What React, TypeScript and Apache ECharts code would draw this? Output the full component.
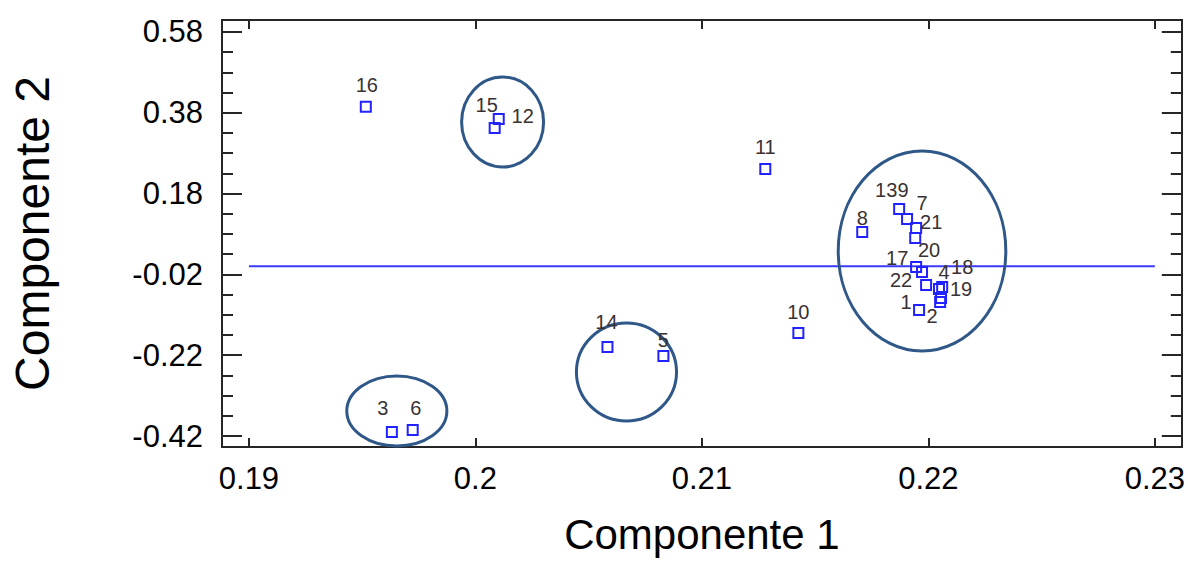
import React, { useEffect, useRef } from "react";
import * as echarts from "echarts";

// ---- data ----
const pointNames = ["1","2","3","4","5","6","7","8","9","10","11","12","13","14","15","16","17","18","19","20","21","22"];
const comp1 = [0.21959,0.22052,0.19631,0.22047,0.2083,0.19723,0.21946,0.21708,0.21906,0.21426,0.2128,0.20103,0.21871,0.20583,0.20085,0.19516,0.21946,0.22061,0.22056,0.21972,0.21942,0.2199];
const comp2 = [-0.1081,-0.0883,-0.4101,-0.0561,-0.222,-0.4051,0.0949,0.085,0.1171,-0.165,0.2409,0.3647,0.1419,-0.1997,0.3424,0.3951,-0.0017,-0.0512,-0.0784,-0.0141,0.0701,-0.0462];
// label offsets (px) relative to each marker, in the same order
const labelDx = [-13,-8,-9,5,0,3,6,0,-4,0,0,24,-13,-1,-8,1,-19,20,20,7,16,-25];
const labelDy = [-8,14,-24,-17,-16,-22,-25,-14,-29,-21,-22,-3,-19,-25,-23,-22,-9,-20,-9,-22,-16,-5];

const xTickLabels = [0.19, 0.2, 0.21, 0.22, 0.23];
const yTickLabels = [-0.42, -0.22, -0.02, 0.18, 0.38, 0.58];

// cluster ellipses: centre x, centre y, radius x, radius y (data units)
const ellipseCx = [0.2012, 0.20667, 0.19653, 0.21972];
const ellipseCy = [0.3572, -0.2616, -0.3581, 0.0379];
const ellipseRx = [0.00181, 0.00221, 0.00221, 0.0037];
const ellipseRy = [0.1114, 0.1213, 0.0866, 0.2475];

// reference line
const refLineX = [0.19, 0.23];
const refLineY = [0, 0];

const X_MIN = 0.18881;
const X_MAX = 0.23119;
const Y_MIN = -0.4472;
const Y_MAX = 0.6097;

const yMinorTicks: number[] = [];
for (let k = 0; k <= 20; k++) yMinorTicks.push(Math.round((0.58 - 0.05 * k) * 100) / 100);

const FONT = "'Liberation Sans', Arial, Helvetica, sans-serif";
const AXIS_COLOR = "#262626";

export default function App() {
  const ref = useRef<HTMLDivElement>(null);
  useEffect(() => {
    document.body.style.margin = "0";
    if (!ref.current) return;
    const chart = echarts.init(ref.current, undefined, { renderer: "svg" });

    const baseY = (position: "left" | "right", ticks: number[], len: number, showLabel: boolean, name?: string) => ({
      type: "value",
      position,
      min: Y_MIN,
      max: Y_MAX,
      name,
      nameLocation: "middle",
      nameGap: 166,
      nameTextStyle: { fontSize: 48, fontFamily: FONT, color: "#000" },
      axisLine: { show: true, onZero: false, lineStyle: { color: AXIS_COLOR, width: 2 } },
      axisTick: { show: true, inside: true, length: len, customValues: ticks, lineStyle: { color: AXIS_COLOR, width: 2 } },
      axisLabel: showLabel
        ? { show: true, customValues: yTickLabels, margin: 19, fontSize: 31, fontFamily: FONT, color: "#000", formatter: (v: number) => v.toFixed(2) }
        : { show: false },
      splitLine: { show: false },
    });

    const baseX = (position: "top" | "bottom", showLabel: boolean, name?: string) => ({
      type: "value",
      position,
      min: X_MIN,
      max: X_MAX,
      name,
      nameLocation: "middle",
      nameGap: 66,
      nameTextStyle: { fontSize: 42, fontFamily: FONT, color: "#000" },
      axisLine: { show: true, onZero: false, lineStyle: { color: AXIS_COLOR, width: 2 } },
      axisTick: { show: true, inside: true, length: 9, customValues: xTickLabels, lineStyle: { color: AXIS_COLOR, width: 2 } },
      axisLabel: showLabel
        ? { show: true, customValues: xTickLabels, margin: 16, fontSize: 31, fontFamily: FONT, color: "#000", formatter: (v: number) => String(v) }
        : { show: false },
      splitLine: { show: false },
    });

    const scatterData = pointNames.map((n, i) => ({
      name: n,
      value: [comp1[i], comp2[i]],
      label: { offset: [labelDx[i], labelDy[i]] },
    }));

    const ellipseData = ellipseCx.map((cx, i) => [cx, ellipseCy[i], ellipseRx[i], ellipseRy[i]]);

    chart.setOption({
      animation: false,
      backgroundColor: "#fff",
      grid: { left: 222, top: 20, right: 5, bottom: 114, containLabel: false },
      xAxis: [baseX("bottom", true, "Componente 1"), baseX("top", false)],
      yAxis: [
        baseY("left", yTickLabels, 20, true, "Componente 2"),
        baseY("left", yMinorTicks, 11, false),
        baseY("right", yTickLabels, 20, false),
        baseY("right", yMinorTicks, 11, false),
      ],
      series: [
        {
          type: "line",
          xAxisIndex: 0,
          yAxisIndex: 0,
          data: refLineX.map((x, i) => [x, refLineY[i]]),
          symbol: "none",
          lineStyle: { color: "#3a3aff", width: 2 },
          z: 2,
          silent: true,
        },
        {
          type: "custom",
          xAxisIndex: 0,
          yAxisIndex: 0,
          data: ellipseData,
          encode: { x: 0, y: 1 },
          clip: false,
          z: 3,
          silent: true,
          renderItem: (params: any, api: any) => {
            const c = api.coord([api.value(0), api.value(1)]);
            const s = api.size([api.value(2), api.value(3)]);
            return {
              type: "ellipse",
              shape: { cx: c[0], cy: c[1], rx: s[0], ry: s[1] },
              style: { fill: "none", stroke: "#2f5888", lineWidth: 3 },
            };
          },
        },
        {
          type: "scatter",
          xAxisIndex: 0,
          yAxisIndex: 0,
          data: scatterData,
          symbol: "rect",
          symbolSize: 10,
          z: 5,
          itemStyle: { color: "rgba(255,255,255,0)", borderColor: "#2222ff", borderWidth: 2, opacity: 1 },
          label: {
            show: true,
            position: "inside",
            formatter: (p: any) => p.name,
            fontSize: 20,
            fontFamily: "'Liberation Sans Narrow', 'Liberation Sans', Arial, sans-serif",
            color: "#3a3232",
          },
          emphasis: { disabled: true },
        },
      ],
    });
    return () => chart.dispose();
  }, []);
  return <div ref={ref} style={{ width: 1188, height: 561 }} />;
}
